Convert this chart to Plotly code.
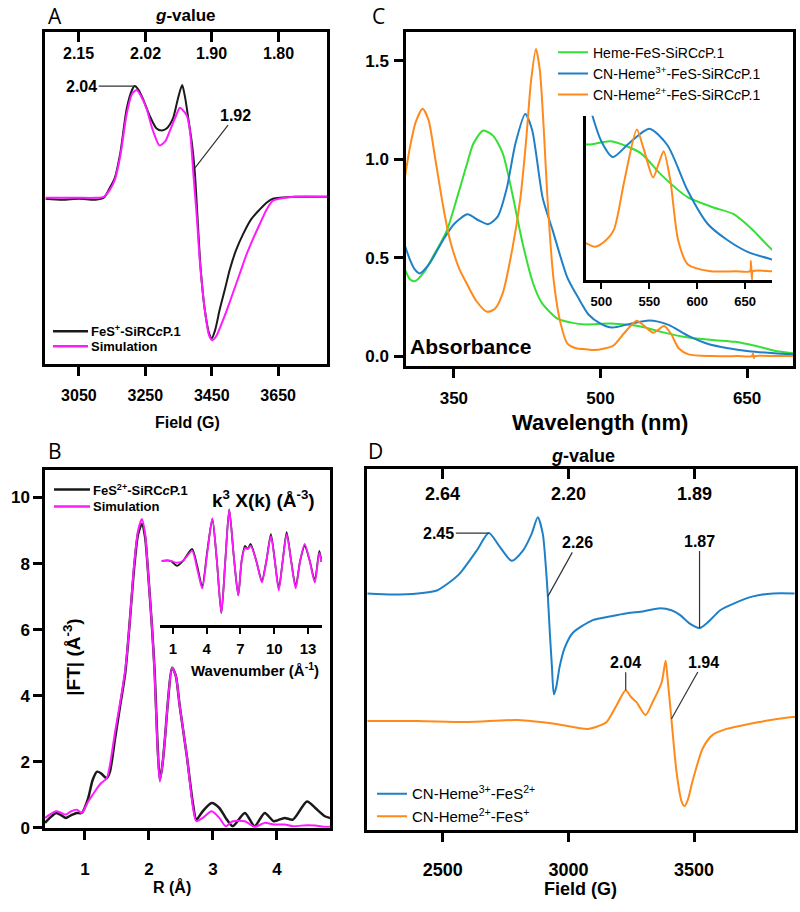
import plotly.graph_objects as go

W, H = 800, 912
FONT = "Arial, Liberation Sans, sans-serif"
BLACK = "#1a1a1a"
MAGENTA = "#ff1aff"
GREEN = "#35e035"
BLUE = "#1f80c8"
ORANGE = "#ff8a1c"

# ---- panel A: EPR of FeS+ (field in G, signal in a.u.)
A_FIELD_EXP = [2950, 3000, 3050, 3100, 3125, 3143, 3158, 3175, 3194, 3210, 3218, 3230, 3243, 3263,
               3284, 3300, 3314, 3333, 3348, 3361, 3370, 3380, 3390, 3399, 3407, 3416, 3429, 3442,
               3450, 3460, 3474, 3490, 3504, 3522, 3544, 3568, 3594, 3615, 3634, 3700, 3797]
A_EXP = [-2, -3, -2, -3, -1, 9, 19, 45, 89, 108, 112, 108, 99, 82,
         69, 67, 69, 79, 99, 113, 100, 78, 55, 25, -20, -70, -114, -138,
         -143, -135, -114, -93, -74, -55, -38, -23, -13, -6, -2, 0, 0]
A_FIELD_SIM = [2950, 3000, 3050, 3100, 3125, 3143, 3158, 3175, 3194, 3210, 3224, 3240, 3254, 3270,
               3293, 3310, 3323, 3340, 3354, 3362, 3375, 3385, 3395, 3405, 3414, 3429, 3442, 3452,
               3465, 3480, 3496, 3513, 3534, 3555, 3575, 3594, 3615, 3634, 3700, 3797]
A_SIM = [-1, -1, -1, -1, 0, 7, 17, 42, 84, 104, 108, 100, 89, 70,
         52, 56, 66, 80, 90, 88, 82, 65, 22, -20, -64, -114, -140, -145,
         -140, -128, -114, -98, -78, -58, -42, -28, -13, -4, 0, 0]
A_FIELD_TICKS = [3050, 3250, 3450, 3650]
A_G_LABELS = ["2.15", "2.02", "1.90", "1.80"]

# ---- panel B: EXAFS Fourier transform
B_R = [0.375, 0.45, 0.55, 0.63, 0.7, 0.78, 0.87, 0.95, 1.05, 1.12, 1.19, 1.25, 1.34, 1.39, 1.47, 1.55,
       1.63, 1.69, 1.77, 1.83, 1.89, 1.94, 1.98, 2.05, 2.09, 2.13, 2.17, 2.21, 2.25, 2.30, 2.36, 2.42,
       2.48, 2.59, 2.69, 2.74, 2.84, 2.98, 3.1, 3.2, 3.31, 3.5, 3.65, 3.81, 3.95, 4.12, 4.25, 4.47,
       4.6, 4.75, 4.83]
B_FT_EXP = [0.15, 0.3, 0.45, 0.38, 0.3, 0.38, 0.45, 0.45, 0.9, 1.45, 1.7, 1.65, 1.5, 1.7, 2.7, 3.7,
            4.7, 6.0, 7.9, 8.9, 9.2, 8.8, 7.9, 6.0, 4.7, 2.7, 1.45, 1.9, 2.7, 3.9, 4.85, 4.6,
            3.7, 2.2, 0.7, 0.25, 0.5, 0.75, 0.6, 0.3, 0.05, 0.45, 0.05, 0.45, 0.2, 0.3, 0.25, 0.8,
            0.6, 0.35, 0.3]
B_FT_SIM = [0.3, 0.4, 0.5, 0.45, 0.4, 0.5, 0.55, 0.45, 0.8, 1.0, 1.2, 1.35, 1.5, 1.9, 2.9, 3.8,
            4.8, 6.0, 8.0, 9.0, 9.35, 8.9, 7.9, 6.0, 4.6, 2.6, 1.4, 1.9, 2.7, 3.9, 4.85, 4.6,
            3.7, 2.2, 0.6, 0.2, 0.3, 0.5, 0.3, 0.05, 0.2, 0.2, 0.03, 0.15, 0.1, 0.1, 0.05, 0.08,
            0.07, 0.03, 0.03]
B_K = [0.0, 0.8, 1.35, 1.9, 2.7, 3.15, 3.6, 4.05, 4.5, 4.9, 5.3, 5.65, 6.0, 6.4, 6.8, 7.1, 7.4,
       7.65, 7.9, 8.4, 8.9, 9.3, 9.7, 10.05, 10.4, 10.75, 11.1, 11.5, 11.9, 12.3, 12.7, 13.15,
       13.6, 14.0, 14.2]
B_CHI_EXP = [0, 0, -5, 0, 12, -5, -26, 10, 42, 0, -53, 0, 52, 5, -35, 0, 15,
             12, 17, 0, -20, 0, 27, 0, -28, 0, 29, 0, -26, 0, 15, 0,
             -20, 10, -1]
B_CHI_SIM = [0, 0, -2, 0, 10, -8, -28, 8, 43, 0, -53, 0, 52, 5, -35, 0, 13,
             12, 15, 0, -22, 0, 25, 0, -30, 0, 27, 0, -28, 0, 17, 0,
             -22, 8, -1]

# ---- panel C: UV-vis absorbance
C_WL_GREEN = [300, 305, 310, 320, 329, 337, 343, 353, 363, 370, 380, 390, 400, 410, 420, 431, 440,
              456, 470, 485, 510, 541, 562, 590, 617, 638, 658, 678, 697]
C_ABS_GREEN = [0.44, 0.39, 0.38, 0.43, 0.51, 0.58, 0.64, 0.80, 0.97, 1.08, 1.146, 1.12, 1.03, 0.82,
               0.58, 0.37, 0.27, 0.19, 0.17, 0.161, 0.165, 0.15, 0.123, 0.094, 0.081, 0.0725,
               0.0525, 0.0275, 0.015]
C_WL_BLUE = [300, 305, 310, 315, 325, 339, 350, 364, 375, 385, 395, 404, 413, 423, 430, 441, 451,
             466, 478, 488, 500, 512, 529, 550, 569, 590, 611, 631, 652, 678, 697]
C_ABS_BLUE = [0.56, 0.49, 0.44, 0.42, 0.47, 0.59, 0.67, 0.72, 0.69, 0.67, 0.71, 0.85, 1.08, 1.23,
              1.15, 0.80, 0.64, 0.40, 0.29, 0.21, 0.165, 0.145, 0.1625, 0.181, 0.16, 0.1025, 0.06,
              0.04, 0.025, 0.015, 0.01]
C_WL_ORANGE = [300, 305, 311, 318, 324, 331, 339, 346, 355, 363, 373, 384, 392, 400, 410, 418, 424,
               429, 434, 438, 442, 446, 452, 459, 466, 475, 485, 493, 503, 513, 524, 537, 544, 554,
               560, 565, 572, 580, 590, 614, 640, 655, 656, 657, 658, 678, 697]
C_ABS_ORANGE = [0.91, 1.06, 1.19, 1.256, 1.2, 1.0, 0.76, 0.59, 0.45, 0.37, 0.28, 0.225, 0.24, 0.32,
                0.55, 0.8, 1.1, 1.4, 1.56, 1.45, 1.15, 0.78, 0.39, 0.17, 0.065, 0.04, 0.035, 0.031,
                0.0375, 0.0525, 0.115, 0.18, 0.156, 0.119, 0.1375, 0.1525, 0.115, 0.04, 0.009, 0.0,
                0.0, 0.0, 0.013, -0.01, 0.0, 0.0, 0.0]

# ---- panel D: EPR of CN-bound states
D_FIELD_BLUE = [2200, 2300, 2400, 2476, 2520, 2567, 2634, 2683, 2727, 2774, 2818, 2853, 2878, 2898,
                2910, 2918, 2926, 2934, 2942, 2952, 2965, 2985, 3017, 3097, 3170, 3234, 3300, 3366,
                3410, 3445, 3480, 3522, 3560, 3604, 3660, 3735, 3815, 3900]
D_BLUE = [0, -1, 0, 3, 10, 20, 43, 61, 47, 33, 43, 60, 77, 60,
          27, -3, -40, -73, -102, -94, -74, -55, -40, -27, -23, -20, -18, -15,
          -17, -22, -30, -35, -28, -17, -10, -3, 0, 0]
D_FIELD_ORANGE = [2200, 2400, 2600, 2800, 2950, 3075, 3120, 3152, 3192, 3228, 3250, 3271, 3307, 3335,
                  3371, 3387, 3395, 3410, 3430, 3450, 3462, 3475, 3494, 3534, 3574, 3629, 3700, 3760,
                  3892, 3902]
D_ORANGE = [0, 0, -1, 1, -3, -8, -5, -1, 16, 31, 24, 19, 6, 19,
            39, 61, 42, 2, -51, -81, -86, -80, -61, -28, -14, -8, -4, -1, 4, 4]
D_FIELD_TICKS = [2500, 3000, 3500]
D_G_LABELS = ["2.64", "2.20", "1.89"]
D_STACK = 129  # vertical offset of the blue trace


def dom_x(a, b):
    return [a / W, b / W]


def dom_y(top, bottom):
    return [1 - bottom / H, 1 - top / H]


def px(x):
    return x / W


def py(y):
    return 1 - y / H


def bold(size):
    return dict(family=FONT, size=size, color="black", weight="bold")


def line(color, width=2, smoothing=0.7):
    return dict(color=color, width=width, shape="spline", smoothing=smoothing)


fig = go.Figure()

# A
fig.add_trace(go.Scatter(x=A_FIELD_EXP, y=A_EXP, xaxis="x", yaxis="y", mode="lines",
                         line=line(BLACK), showlegend=False))
fig.add_trace(go.Scatter(x=A_FIELD_SIM, y=A_SIM, xaxis="x", yaxis="y", mode="lines",
                         line=line(MAGENTA), showlegend=False))
# invisible carrier so the g-value axis gets drawn
fig.add_trace(go.Scatter(x=A_FIELD_TICKS, y=[0] * len(A_FIELD_TICKS), xaxis="x2", yaxis="y",
                         mode="markers", marker=dict(opacity=0), hoverinfo="skip", showlegend=False))
# B
fig.add_trace(go.Scatter(x=B_R, y=B_FT_EXP, xaxis="x3", yaxis="y3", mode="lines",
                         line=line(BLACK, 2.5), showlegend=False))
fig.add_trace(go.Scatter(x=B_R, y=B_FT_SIM, xaxis="x3", yaxis="y3", mode="lines",
                         line=line(MAGENTA), showlegend=False))
fig.add_trace(go.Scatter(x=B_K, y=B_CHI_EXP, xaxis="x4", yaxis="y4", mode="lines",
                         line=line(BLACK, 1.8), showlegend=False))
fig.add_trace(go.Scatter(x=B_K, y=B_CHI_SIM, xaxis="x4", yaxis="y4", mode="lines",
                         line=line(MAGENTA, 1.8), showlegend=False))
# C
c_names = ["Heme-FeS-SiRC<i>c</i>P.1", "CN-Heme<sup>3+</sup>-FeS-SiRC<i>c</i>P.1",
           "CN-Heme<sup>2+</sup>-FeS-SiRC<i>c</i>P.1"]
c_series = [(C_WL_GREEN, C_ABS_GREEN, GREEN), (C_WL_BLUE, C_ABS_BLUE, BLUE),
            (C_WL_ORANGE, C_ABS_ORANGE, ORANGE)]
for name, (wl, ab, col) in zip(c_names, c_series):
    fig.add_trace(go.Scatter(x=wl, y=ab, xaxis="x5", yaxis="y5", mode="lines",
                             line=line(col), name=name, legend="legend"))
for wl, ab, col in c_series:
    fig.add_trace(go.Scatter(x=wl, y=ab, xaxis="x6", yaxis="y6", mode="lines",
                             line=line(col), showlegend=False))
# D
fig.add_trace(go.Scatter(x=D_FIELD_BLUE, y=[v + D_STACK for v in D_BLUE], xaxis="x7", yaxis="y7",
                         mode="lines", line=line(BLUE), name="CN-Heme<sup>3+</sup>-FeS<sup>2+</sup>",
                         legend="legend2"))
fig.add_trace(go.Scatter(x=D_FIELD_ORANGE, y=D_ORANGE, xaxis="x7", yaxis="y7",
                         mode="lines", line=line(ORANGE), name="CN-Heme<sup>2+</sup>-FeS<sup>+</sup>",
                         legend="legend2"))
fig.add_trace(go.Scatter(x=D_FIELD_TICKS, y=[0] * len(D_FIELD_TICKS), xaxis="x8", yaxis="y7",
                         mode="markers", marker=dict(opacity=0), hoverinfo="skip", showlegend=False))

frame = dict(showline=True, linecolor="black", linewidth=2.5, showgrid=False, zeroline=False,
             mirror=True, ticks="outside", tickcolor="black", tickwidth=2.5, ticklen=9)
gaxis = dict(side="top", showline=False, showgrid=False, zeroline=False, ticks="inside",
             showticklabels=False, tickcolor="black", tickwidth=2.5, ticklen=10)

fig.update_layout(
    width=W, height=H, margin=dict(l=0, r=0, t=0, b=0),
    paper_bgcolor="white", plot_bgcolor="white",
    # A
    xaxis=dict(frame, domain=dom_x(45, 327), range=[2948, 3797], anchor="y",
               tickvals=A_FIELD_TICKS, tickfont=bold(16), ticklabelstandoff=6),
    yaxis=dict(frame, domain=dom_y(32, 368), range=[-169, 167], anchor="x",
               ticks="", showticklabels=False),
    xaxis2=dict(gaxis, overlaying="x", anchor="y", range=[2948, 3797], tickvals=A_FIELD_TICKS),
    # B
    xaxis3=dict(frame, domain=dom_x(45, 330), range=[0.375, 4.83], anchor="y3",
                tickvals=[1, 2, 3, 4], tickfont=bold(17), ticklabelstandoff=15),
    yaxis3=dict(frame, domain=dom_y(475, 837), range=[0, 10.84], anchor="x3",
                tickvals=[0, 2, 4, 6, 8, 10], tickfont=bold(17), ticklabelstandoff=0),
    xaxis4=dict(showline=True, linecolor="black", linewidth=2.5, showgrid=False, zeroline=False,
                domain=dom_x(160, 322), range=[-0.15, 14.24], anchor="y4",
                ticks="outside", tickcolor="black", tickwidth=2, ticklen=6,
                tickvals=[1, 4, 7, 10, 13], tickfont=bold(15), ticklabelstandoff=2),
    yaxis4=dict(visible=False, domain=dom_y(505, 632), range=[-65, 62], anchor="x4"),
    # C
    xaxis5=dict(frame, domain=dom_x(406, 793), range=[301, 697], anchor="y5",
                tickvals=[350, 500, 650], tickfont=bold(17), ticklabelstandoff=6),
    yaxis5=dict(frame, domain=dom_y(32, 370), range=[-0.05, 1.648], anchor="x5",
                tickvals=[0.0, 0.5, 1.0, 1.5], tickformat=".1f", tickfont=bold(17),
                ticklabelstandoff=2),
    xaxis6=dict(showline=True, linecolor="black", linewidth=2.5, showgrid=False, zeroline=False,
                domain=dom_x(586, 772), range=[484, 678], anchor="y6",
                ticks="outside", tickcolor="black", tickwidth=2, ticklen=6,
                tickvals=[500, 550, 600, 650], tickfont=bold(13), ticklabelstandoff=2),
    yaxis6=dict(showline=True, linecolor="black", linewidth=2.5, showgrid=False, zeroline=False,
                domain=dom_y(117, 283), range=[-0.011, 0.1975], anchor="x6",
                ticks="", showticklabels=False),
    # D
    xaxis7=dict(frame, domain=dom_x(367, 795), range=[2198, 3902], anchor="y7",
                tickvals=D_FIELD_TICKS, tickfont=bold(18), ticklabelstandoff=13),
    yaxis7=dict(frame, domain=dom_y(474, 839), range=[-110, 255], anchor="x7",
                ticks="", showticklabels=False),
    xaxis8=dict(gaxis, overlaying="x7", anchor="y7", range=[2198, 3902], tickvals=D_FIELD_TICKS),
    legend=dict(x=px(553), y=py(37), xanchor="left", yanchor="top", bgcolor="rgba(0,0,0,0)",
                font=dict(family=FONT, size=14, color="black"), tracegroupgap=0, itemwidth=30),
    legend2=dict(x=px(372), y=py(786), xanchor="left", yanchor="top", bgcolor="rgba(0,0,0,0)",
                 font=dict(family=FONT, size=15, color="black"), tracegroupgap=0, itemwidth=30),
)

ann = []
shapes = []
# g-value tick labels sit inside the frame, below the inward ticks
for ticks, labels, xr, ylab, size in [(A_FIELD_TICKS, A_G_LABELS, "x", 54, 16),
                                      (D_FIELD_TICKS, D_G_LABELS, "x7", 499, 18)]:
    for v, t in zip(ticks, labels):
        ann.append(dict(text=t, x=v, y=py(ylab), xref=xr, yref="paper", showarrow=False,
                        xanchor="center", yanchor="middle", font=bold(size)))
for letter, x, y in [("A", 55, 16), ("B", 55, 456), ("C", 378, 16), ("D", 375, 456)]:
    ann.append(dict(text=letter, x=px(x), y=py(y), xref="paper", yref="paper", showarrow=False,
                    xanchor="center", yanchor="middle",
                    font=dict(family="Open Sans", size=21, color="black")))
titles = [
    ("<i>g</i>-value", 185, 16, 17, 0),
    ("Field (G)", 187, 427, 16, 0),
    ("R (Å)", 172, 897, 16, 0),
    ("Wavelength (nm)", 600, 427, 22, 0),
    ("<i>g</i>-value", 583, 461, 18, 0),
    ("k<sup>3</sup> X(k) (Å<sup>-3</sup>)", 263, 505, 19, 0),
    ("Wavenumber (Å<sup>-1</sup>)", 255, 677, 15, 0),
    ("|FT| (Å<sup>-3</sup>)", 72, 665, 19, -90),
]
for text, x, y, size, ang in titles:
    ann.append(dict(text=text, x=px(x), y=py(y), xref="paper", yref="paper", showarrow=False,
                    xanchor="center", yanchor="middle", textangle=ang, font=bold(size)))
ann.append(dict(text="Field (G)", x=px(580), y=py(911), xref="paper", yref="paper",
                xanchor="center", yanchor="bottom", showarrow=False, font=bold(18)))
ann.append(dict(text="Absorbance", x=px(408), y=py(350), xref="paper", yref="paper",
                xanchor="left", yanchor="middle", showarrow=False, font=bold(21)))

# compact legends of panels A and B (tighter rows than the built-in legend allows)
small_legends = [
    (53, 88, 335, BLACK, "FeS<sup>+</sup>-SiRC<i>c</i>P.1"),
    (53, 88, 350, MAGENTA, "Simulation"),
    (54, 90, 495, BLACK, "FeS<sup>2+</sup>-SiRC<i>c</i>P.1"),
    (54, 90, 512, MAGENTA, "Simulation"),
]
for x0, x1, y, col, text in small_legends:
    shapes.append(dict(type="line", xref="paper", yref="paper", x0=px(x0), x1=px(x1),
                       y0=py(y), y1=py(y), line=dict(color=col, width=2.5)))
    ann.append(dict(text=text, x=px(x1 + 1), y=py(y), xref="paper", yref="paper",
                    xanchor="left", yanchor="middle", showarrow=False, font=bold(13)))

peak_labels = [
    ("2.04", "x", "y", 3218, 112, -53, 0),
    ("1.92", "x", "y", 3399, 29, 41, -53),
    ("2.45", "x7", "y7", 2683, 61 + D_STACK, -50, 0),
    ("2.26", "x7", "y7", 2918, -3 + D_STACK, 30, -54),
    ("1.87", "x7", "y7", 3522, -35 + D_STACK, 0, -87),
    ("2.04", "x7", "y7", 3228, 31, 0, -28),
    ("1.94", "x7", "y7", 3410, 2, 32, -57),
]
for text, xr, yr, x, y, ax, ay in peak_labels:
    ann.append(dict(text=text, x=x, y=y, xref=xr, yref=yr, ax=ax, ay=ay, showarrow=True,
                    arrowhead=0, arrowwidth=1.2, arrowcolor="#333333", font=bold(16)))
fig.update_layout(annotations=ann, shapes=shapes)

fig.write_html("out.html", config={"displayModeBar": False},
               post_script="document.body.style.margin='0';document.body.style.overflow='hidden';")
